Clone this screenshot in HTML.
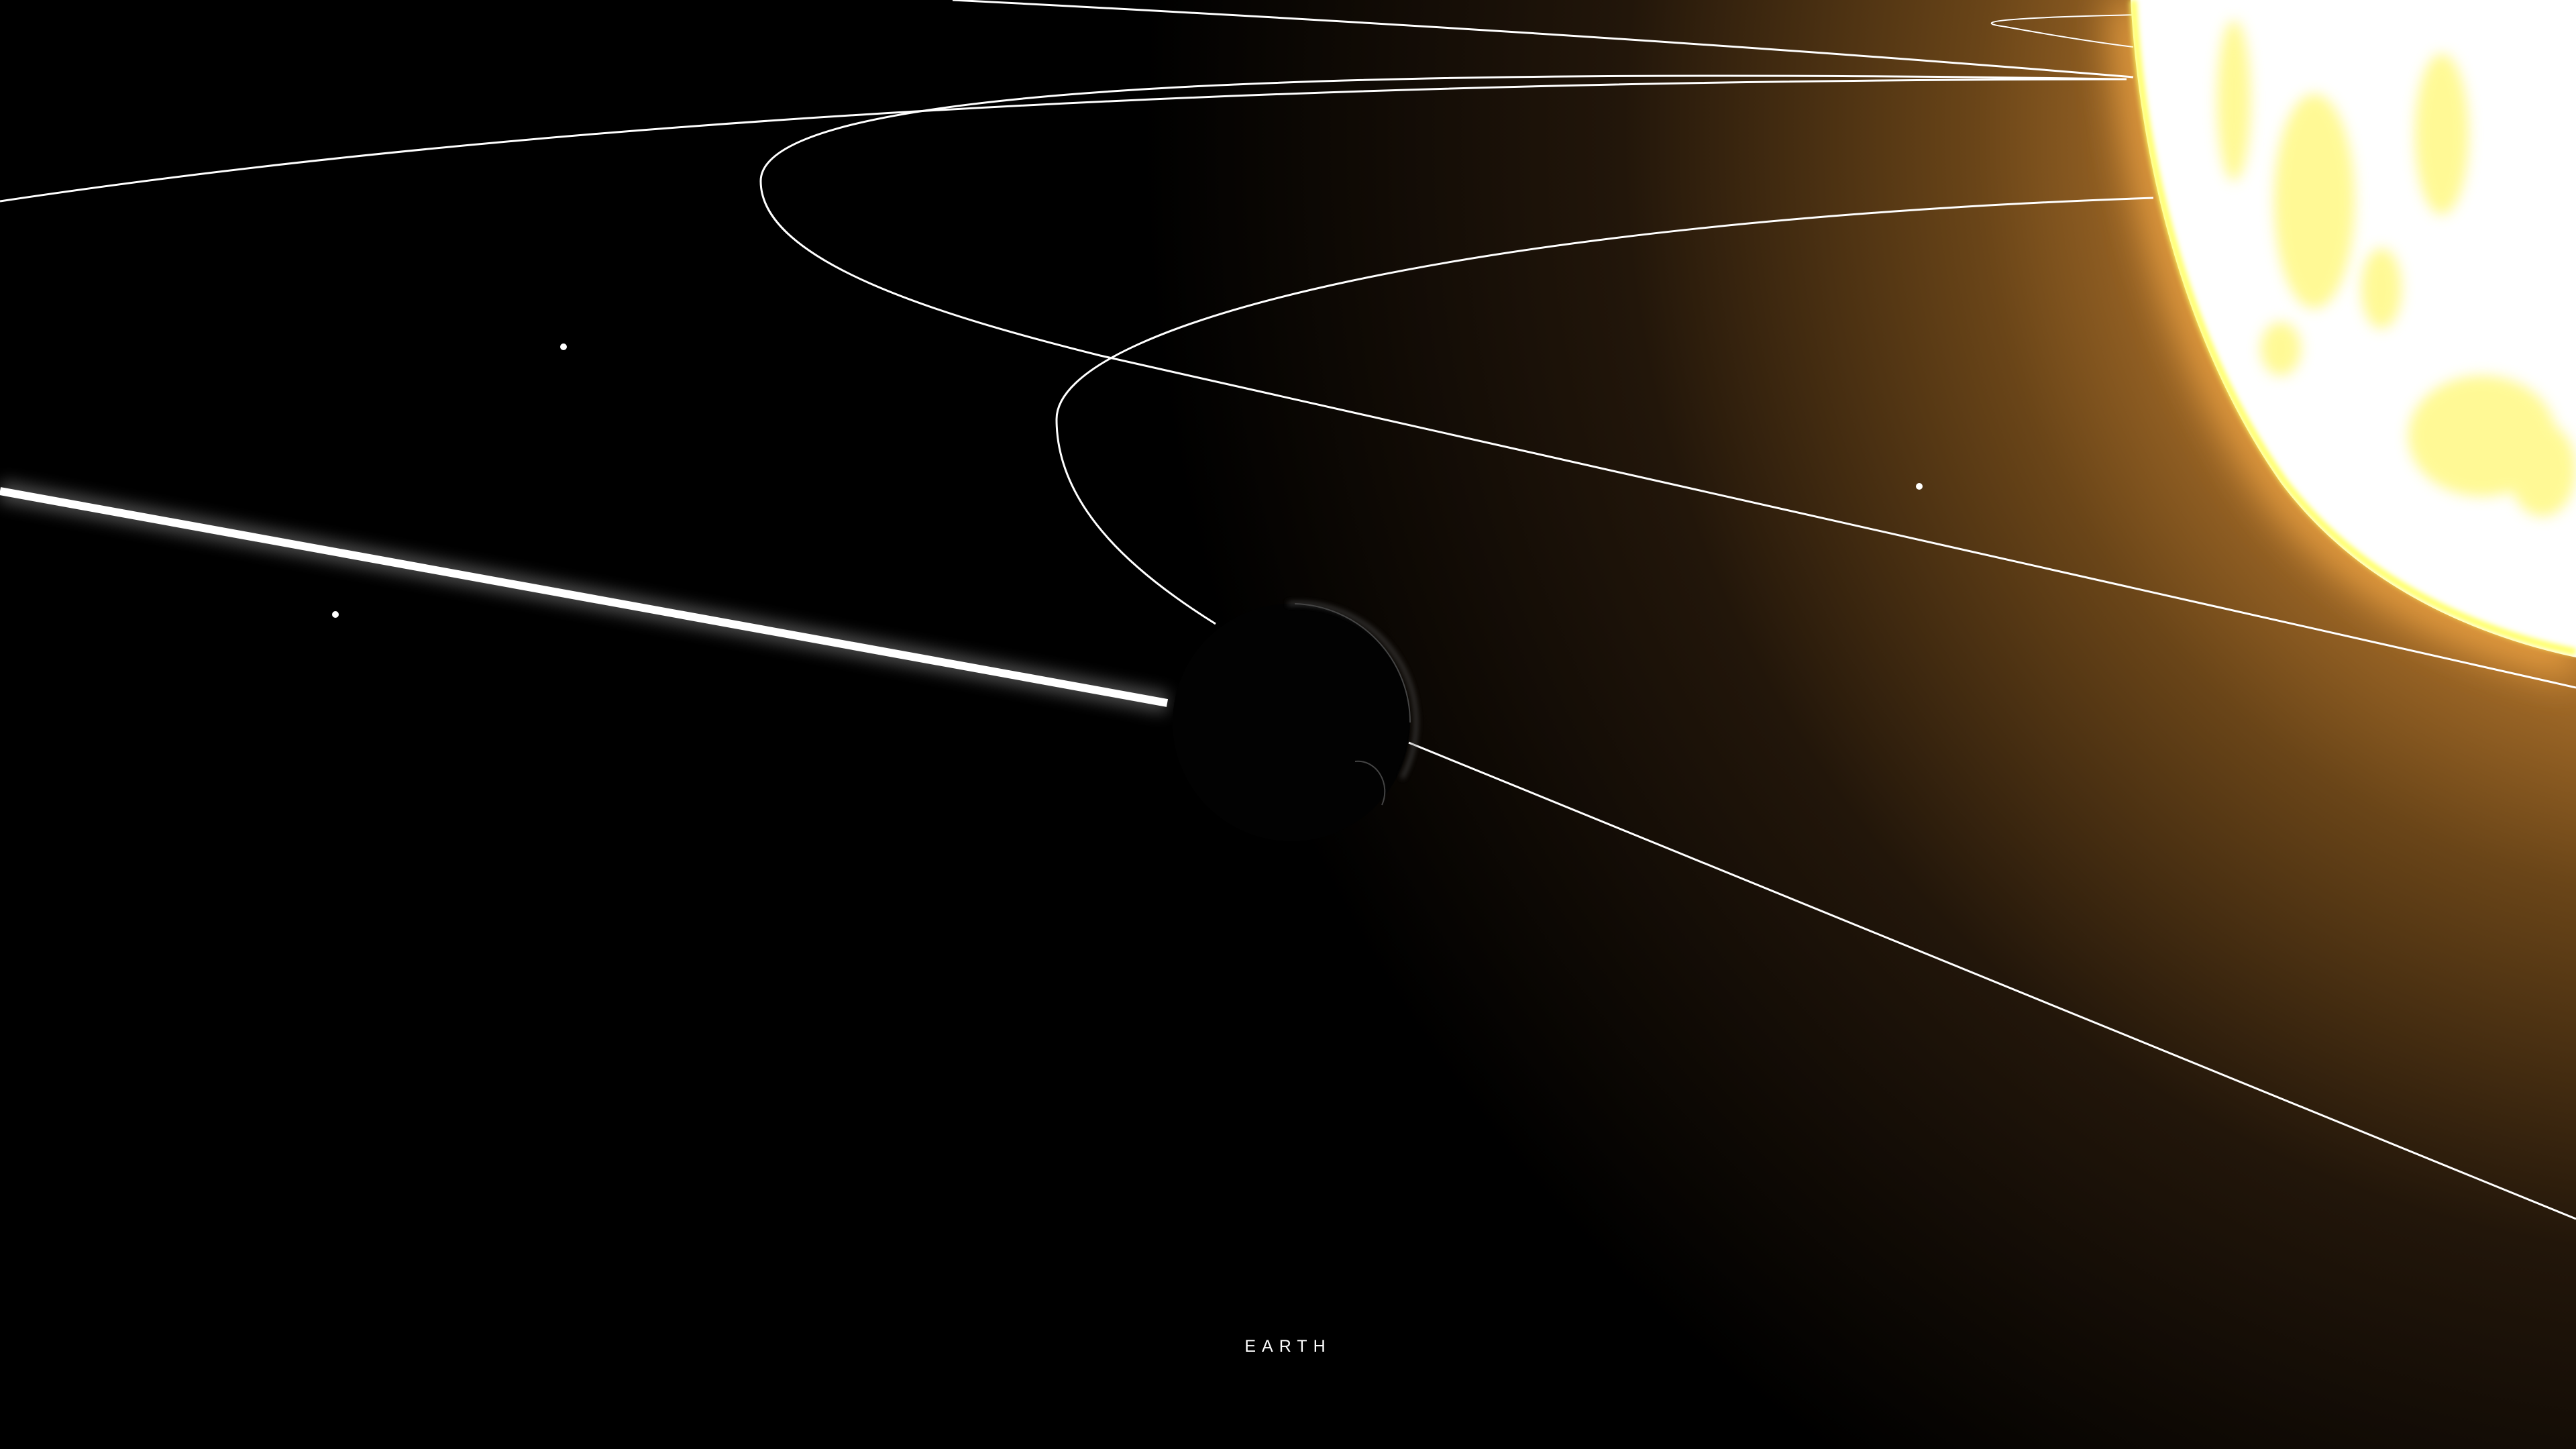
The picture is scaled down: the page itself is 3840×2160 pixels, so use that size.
<!DOCTYPE html>
<html><head><meta charset="utf-8"><style>
html,body{margin:0;padding:0;background:#000;width:3840px;height:2160px;overflow:hidden}
svg{display:block}
</style></head><body>
<svg width="3840" height="2160" viewBox="0 0 3840 2160" xmlns="http://www.w3.org/2000/svg">
<defs>
<radialGradient id="glow" cx="4100" cy="200" r="2400" gradientUnits="userSpaceOnUse">
<stop offset="0" stop-color="#ffb040"/>
<stop offset="0.3" stop-color="#c07e30"/>
<stop offset="0.48" stop-color="#6a4518"/>
<stop offset="0.7" stop-color="#22160a"/>
<stop offset="1" stop-color="#000"/>
</radialGradient>
<filter id="blur" x="-20%" y="-20%" width="140%" height="140%"><feGaussianBlur stdDeviation="12"/></filter>
<filter id="sblur"><feGaussianBlur stdDeviation="4"/></filter>
<filter id="rim" x="-20%" y="-20%" width="140%" height="140%"><feGaussianBlur stdDeviation="30"/></filter>
<filter id="spot"><feGaussianBlur stdDeviation="10"/></filter>
</defs>
<rect width="3840" height="2160" fill="#000"/>
<rect width="3840" height="2160" fill="url(#glow)"/>
<path d="M3176,0 C3190,250 3260,520 3400,720 C3520,880 3700,950 3840,980" fill="none" stroke="#ffb048" stroke-width="60" filter="url(#rim)" opacity="0.8"/>
<g fill="none" stroke="#fff" stroke-width="3">
<path d="M1420,0 Q2400,50 3180,115"/>
<path d="M0,300 Q1200,120 3170,118"/>
<path d="M3160,118 C1700,95 1134,150 1134,270 C1134,390 1400,470 1640,530 L3840,1025"/>
<path d="M3210,295 C2200,330 1575,480 1575,625 C1575,760 1700,860 1812,930"/>
<path d="M2100,1107 L3840,1817"/>
<path stroke-width="2" d="M3190,22 Q2900,28 2990,40 Q3100,60 3180,70"/>
</g>
<path d="M3176,0 C3190,250 3260,520 3400,720 C3520,880 3700,950 3840,980 L3840,0 Z" fill="#fff"/>
<path d="M3180,0 C3194,250 3264,518 3404,716 C3524,874 3704,944 3840,972" fill="none" stroke="#ffff60" stroke-width="10" filter="url(#sblur)"/>
<g fill="#fff650" opacity="0.6" filter="url(#spot)">
<ellipse cx="3330" cy="150" rx="25" ry="120"/><ellipse cx="3450" cy="300" rx="60" ry="160"/>
<ellipse cx="3400" cy="520" rx="30" ry="40"/><ellipse cx="3700" cy="650" rx="110" ry="90"/>
<ellipse cx="3640" cy="200" rx="40" ry="120"/><ellipse cx="3790" cy="700" rx="50" ry="70"/>
<ellipse cx="3550" cy="430" rx="30" ry="60"/>
</g>
<line x1="0" y1="732" x2="1740" y2="1048" stroke="#fff" stroke-width="30" opacity="0.3" filter="url(#blur)"/>
<line x1="0" y1="732" x2="1740" y2="1048" stroke="#fff" stroke-width="12"/>
<g fill="#fff">
<circle cx="840" cy="517" r="5"/><circle cx="500" cy="916" r="5"/><circle cx="2861" cy="725" r="5"/>
</g>
<g>
<circle cx="1925" cy="1077" r="177" fill="#020202"/>
<path d="M1920,900 A177,177 0 0 1 2090,1160" fill="none" stroke="#555" stroke-width="5" filter="url(#sblur)" opacity="0.7"/>
<path d="M1930,900 A177,177 0 0 1 2102,1077" fill="none" stroke="#444" stroke-width="2"/>
<path d="M2020,1135 A40,45 0 0 1 2060,1200" fill="none" stroke="#444" stroke-width="2"/>
</g>
<text x="1920" y="2015" fill="#fff" font-family="Liberation Sans, sans-serif" font-size="25" letter-spacing="9" text-anchor="middle">EARTH</text>
</svg>
</body></html>
